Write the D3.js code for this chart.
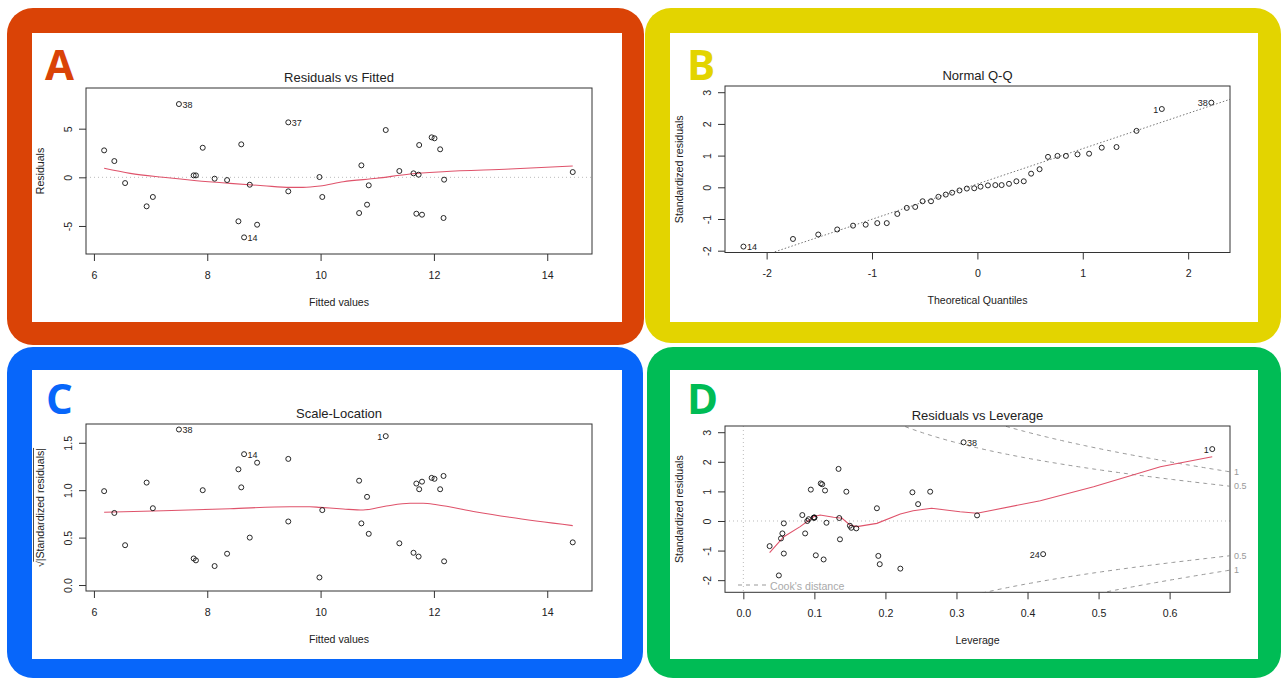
<!DOCTYPE html>
<html>
<head>
<meta charset="utf-8">
<script src="https://cdn.jsdelivr.net/npm/d3@7"></script>
<style>
  html, body { margin: 0; padding: 0; background: #fff; }
  svg { display: block; }
  text { font-family: "Liberation Sans", Arial, sans-serif; fill: #222; }
  .tick text { font-size: 10.6px; }
  .axis-title { font-size: 10.6px; }
  .plot-title { font-size: 13px; }
  .pt-label { font-size: 9px; }
  .panel-letter { font-family: "Open Sans", "Noto Sans", sans-serif; font-weight: 700; font-size: 42px; }
</style>
</head>
<body>
<svg id="chart" width="1284" height="678"></svg>
<script>
// ---------- Diagnostics of a linear model (38 observations) ----------

// Residuals vs Fitted / Scale-Location (shared fitted values)
const fitted = [6.18, 6.36, 6.55, 6.93, 7.04, 7.50, 7.76, 7.80, 7.92, 8.13, 8.35, 8.55, 8.60, 8.65, 8.75, 8.88, 9.43, 9.43, 9.98, 10.03,
                10.68, 10.72, 10.82, 10.85, 11.15, 11.39, 11.64, 11.69, 11.73, 11.74, 11.79, 11.96, 12.01, 12.11, 12.17, 12.18, 14.45];
const residuals = [2.77, 1.67, -0.59, -2.98, -2.02, 7.53, 0.20, 0.20, 3.04, -0.14, -0.28, -4.52, 3.39, -6.17, -0.76, -4.87, 5.65, -1.44, 0.03, -2.02,
                   -3.67, 1.23, -2.81, -0.82, 4.86, 0.65, 0.41, -3.74, 0.27, 3.32, -3.84, 4.11, 4.01, 2.88, -4.18, -0.24, 0.54];
const sqrtAbsStdResid = [0.99, 0.76, 0.42, 1.08, 0.81, 1.64, 0.28, 0.26, 1.00, 0.20, 0.33, 1.22, 1.03, 1.38, 0.50, 1.29, 1.33, 0.67, 0.08, 0.79,
                         1.10, 0.65, 0.93, 0.54, 1.57, 0.44, 0.34, 1.07, 0.30, 1.01, 1.09, 1.13, 1.12, 1.01, 1.15, 0.25, 0.45];

// lowess curves
const smoothFitX = [6.18, 6.64, 7.22, 7.81, 8.40, 8.99, 9.46, 9.69, 9.99, 10.40, 10.99, 11.58, 12.16, 13.34, 14.45];
const smoothFitY = [0.93, 0.41, 0.00, -0.35, -0.62, -0.86, -1.03, -1.03, -0.89, -0.45, -0.10, 0.34, 0.58, 0.85, 1.16];
const smoothScaleX = [6.18, 7.22, 8.40, 9.46, 9.81, 9.99, 10.40, 10.75, 11.16, 11.58, 11.81, 12.05, 12.75, 13.34, 14.45];
const smoothScaleY = [0.767, 0.784, 0.805, 0.826, 0.826, 0.819, 0.802, 0.791, 0.833, 0.862, 0.862, 0.847, 0.770, 0.714, 0.626];

// Normal Q-Q
const theoQuantiles = [-2.22, -1.75, -1.51, -1.33, -1.18, -1.06, -0.95, -0.86, -0.76, -0.67, -0.59, -0.52, -0.44, -0.37, -0.30, -0.24, -0.17, -0.10, -0.03,
                       0.03, 0.10, 0.17, 0.23, 0.30, 0.37, 0.44, 0.51, 0.59, 0.67, 0.76, 0.84, 0.95, 1.06, 1.18, 1.32, 1.51, 1.75, 2.22];
const sortedStdResid = [-1.87, -1.63, -1.49, -1.33, -1.21, -1.18, -1.13, -1.13, -0.84, -0.65, -0.62, -0.44, -0.44, -0.30, -0.23, -0.17, -0.10, -0.04, -0.03,
                        0.02, 0.06, 0.07, 0.07, 0.11, 0.19, 0.19, 0.43, 0.57, 0.96, 0.99, 0.99, 1.04, 1.06, 1.25, 1.27, 1.78, 2.47, 2.67];
const qqLineIntercept = 0.106;
const qqLineSlope = 1.114;

// Residuals vs Leverage
const leverage = [0.037, 0.050, 0.053, 0.055, 0.057, 0.057, 0.083, 0.087, 0.090, 0.092, 0.095, 0.099, 0.100, 0.100, 0.102, 0.109, 0.111, 0.113, 0.115, 0.117,
                  0.134, 0.135, 0.136, 0.145, 0.150, 0.152, 0.159, 0.188, 0.190, 0.192, 0.221, 0.238, 0.246, 0.263, 0.310, 0.329, 0.422, 0.660];
const levStdResid = [-0.85, -1.84, -0.59, -0.42, -0.08, -1.10, 0.20, -0.42, 0.00, 0.06, 1.06, 0.11, 0.11, 0.12, -1.16, 1.27, 1.24, -1.30, 1.03, -0.06,
                     1.76, 0.10, -0.62, 0.99, -0.16, -0.23, -0.25, 0.43, -1.18, -1.46, -1.61, 0.97, 0.57, 0.99, 2.66, 0.19, -1.12, 2.43];
const smoothLevX = [0.037, 0.057, 0.080, 0.099, 0.108, 0.127, 0.139, 0.150, 0.160, 0.188, 0.221, 0.239, 0.265, 0.305, 0.329, 0.418, 0.493, 0.587, 0.660];
const smoothLevY = [-1.07, -0.53, -0.19, 0.145, 0.20, 0.125, 0.09, -0.135, -0.19, -0.08, 0.236, 0.348, 0.428, 0.314, 0.26, 0.686, 1.16, 1.83, 2.17];
const cookLevels = [0.5, 1];
const nCoef = 6;

// labelled observations: index into the arrays above, id text, side (4 = right, 2 = left)
const fitLabelIdx = [5, 16, 13],   fitLabelText = ["38", "37", "14"],  fitLabelSide = [4, 4, 4];
const qqLabelIdx = [0, 36, 37],    qqLabelText = ["14", "1", "38"],    qqLabelSide = [4, 2, 2];
const scaleLabelIdx = [5, 13, 24], scaleLabelText = ["38", "14", "1"], scaleLabelSide = [4, 4, 2];
const levLabelIdx = [34, 36, 37],  levLabelText = ["38", "24", "1"],   levLabelSide = [4, 2, 2];

// tick values
const fitTicks = [6, 8, 10, 12, 14];
const residTicks = [-5, 0, 5];
const qqXTicks = [-2, -1, 0, 1, 2];
const stdResidTicks = [-2, -1, 0, 1, 2, 3];
const scaleTicks = [0, 0.5, 1.0, 1.5];
const levTicks = [0, 0.1, 0.2, 0.3, 0.4, 0.5, 0.6];

const panelLetters = ["A", "B", "C", "D"];
const panelColors = ["#DA4306", "#E3D400", "#0766FA", "#00BC55"];

// ---------- drawing ----------
const svg = d3.select("#chart");
const RED = "#DF536B";

// coloured frames
const frames = [
  { x: 7,   y: 8,   w: 637, h: 337, ix: 32,  iy: 33,  iw: 590, ih: 289, lx: 45,  ly: 80 },
  { x: 645, y: 8,   w: 636, h: 335, ix: 670, iy: 33,  iw: 588, ih: 289, lx: 687, ly: 80 },
  { x: 7,   y: 347, w: 636, h: 331, ix: 32,  iy: 370, iw: 590, ih: 289, lx: 46,  ly: 414 },
  { x: 647, y: 347, w: 634, h: 331, ix: 670, iy: 370, iw: 588, ih: 289, lx: 687, ly: 414 }
];
frames.forEach((f, i) => {
  svg.append("rect").attr("x", f.x).attr("y", f.y).attr("width", f.w).attr("height", f.h)
    .attr("rx", 26).attr("fill", panelColors[i]);
  svg.append("rect").attr("x", f.ix).attr("y", f.iy).attr("width", f.iw).attr("height", f.ih).attr("fill", "#fff");
  svg.append("text").attr("class", "panel-letter").attr("x", f.lx).attr("y", f.ly)
    .style("fill", panelColors[i]).text(panelLetters[i]);
});

function makePanel(o) {
  const b = o.box;
  const x = d3.scaleLinear().domain(o.xDomain).range([b.x0, b.x1]);
  const y = d3.scaleLinear().domain(o.yDomain).range([b.y1, b.y0]);
  const g = svg.append("g");
  const clipId = "clip-" + o.id;
  svg.append("clipPath").attr("id", clipId).append("rect")
    .attr("x", b.x0).attr("y", b.y0).attr("width", b.x1 - b.x0).attr("height", b.y1 - b.y0);
  const inner = g.append("g").attr("clip-path", `url(#${clipId})`);

  // x axis
  const xa = g.append("g").attr("transform", `translate(0,${b.y1})`).style("color", "#333")
    .call(d3.axisBottom(x).tickValues(o.xTicks).tickFormat(o.xFormat).tickSize(7).tickPadding(10));
  xa.select(".domain").remove();
  // y axis, labels parallel to the axis
  const ya = g.append("g").attr("transform", `translate(${b.x0},0)`).style("color", "#333")
    .call(d3.axisLeft(y).tickValues(o.yTicks).tickFormat(o.yFormat).tickSize(7));
  ya.select(".domain").remove();
  ya.selectAll(".tick text")
    .attr("x", null).attr("dy", "0.35em").attr("text-anchor", "middle")
    .attr("transform", "translate(-18,0) rotate(-90)");

  // box
  g.append("rect").attr("x", b.x0).attr("y", b.y0).attr("width", b.x1 - b.x0).attr("height", b.y1 - b.y0)
    .attr("fill", "none").attr("stroke", "#333").attr("stroke-width", 1);

  // titles
  g.append("text").attr("class", "plot-title").attr("x", (b.x0 + b.x1) / 2).attr("y", b.y0 - 11)
    .attr("dy", "0.35em").attr("text-anchor", "middle").text(o.title);
  g.append("text").attr("class", "axis-title").attr("x", (b.x0 + b.x1) / 2).attr("y", b.y1 + 48)
    .attr("dy", "0.35em").attr("text-anchor", "middle").text(o.xlab);
  const yt = g.append("text").attr("class", "axis-title")
    .attr("transform", `translate(${b.x0 - 46},${(b.y0 + b.y1) / 2}) rotate(-90)`)
    .attr("dy", "0.35em").attr("text-anchor", "middle").text(o.ylab);
  return { x, y, g, inner, yt };
}

function drawPoints(p, xs, ys) {
  p.g.selectAll(null).data(xs).join("circle")
    .attr("cx", (d) => p.x(d)).attr("cy", (d, i) => p.y(ys[i])).attr("r", 2.5)
    .attr("fill", "none").attr("stroke", "#111").attr("stroke-width", 0.9);
}
function drawLabels(p, xs, ys, idx, txt, side) {
  idx.forEach((k, j) => {
    const right = side[j] === 4;
    p.g.append("text").attr("class", "pt-label")
      .attr("x", p.x(xs[k]) + (right ? 3.5 : -3.5)).attr("y", p.y(ys[k]))
      .attr("dy", "0.4em").attr("text-anchor", right ? "start" : "end").text(txt[j]);
  });
}
function drawSmooth(p, xs, ys, curve) {
  const line = d3.line().x((d) => p.x(d)).y((d, i) => p.y(ys[i])).curve(curve || d3.curveMonotoneX);
  p.inner.append("path").attr("d", line(xs)).attr("fill", "none").attr("stroke", RED).attr("stroke-width", 1.1);
}
function hLine(p, v, color, dash) {
  const [a, c] = p.x.domain();
  p.inner.append("line").attr("x1", p.x(a)).attr("x2", p.x(c)).attr("y1", p.y(v)).attr("y2", p.y(v))
    .attr("stroke", color).attr("stroke-dasharray", dash);
}

const fmtInt = (d) => String(d);
const fmt1 = d3.format(".1f");

// A: Residuals vs Fitted
const pA = makePanel({ id: "a", box: { x0: 86, x1: 592, y0: 88, y1: 254 }, xDomain: [5.86, 14.79], yDomain: [-7.88, 9.18],
  xTicks: fitTicks, yTicks: residTicks, xFormat: fmtInt, yFormat: fmtInt,
  title: "Residuals vs Fitted", xlab: "Fitted values", ylab: "Residuals" });
hLine(pA, 0, "#bbb", "1,3");
drawSmooth(pA, smoothFitX, smoothFitY);
drawPoints(pA, fitted, residuals);
drawLabels(pA, fitted, residuals, fitLabelIdx, fitLabelText, fitLabelSide);

// B: Normal Q-Q
const pB = makePanel({ id: "b", box: { x0: 725, x1: 1230, y0: 86, y1: 252.5 }, xDomain: [-2.395, 2.397], yDomain: [-2.057, 3.196],
  xTicks: qqXTicks, yTicks: stdResidTicks, xFormat: fmtInt, yFormat: fmtInt,
  title: "Normal Q-Q", xlab: "Theoretical Quantiles", ylab: "Standardized residuals" });
{
  const [a, c] = pB.x.domain();
  pB.inner.append("line")
    .attr("x1", pB.x(a)).attr("y1", pB.y(qqLineIntercept + qqLineSlope * a))
    .attr("x2", pB.x(c)).attr("y2", pB.y(qqLineIntercept + qqLineSlope * c))
    .attr("stroke", "#777").attr("stroke-dasharray", "1.5,2");
}
drawPoints(pB, theoQuantiles, sortedStdResid);
drawLabels(pB, theoQuantiles, sortedStdResid, qqLabelIdx, qqLabelText, qqLabelSide);

// C: Scale-Location
const pC = makePanel({ id: "c", box: { x0: 86, x1: 592, y0: 424, y1: 591 }, xDomain: [5.86, 14.79], yDomain: [-0.063, 1.698],
  xTicks: fitTicks, yTicks: scaleTicks, xFormat: fmtInt, yFormat: fmt1,
  title: "Scale-Location", xlab: "Fitted values", ylab: "" });
{
  // √|Standardized residuals| with an overline on the radicand
  const t = pC.yt.text(null);
  t.append("tspan").text("\u221A");
  t.append("tspan").text("|Standardized residuals|");
  const node = t.node();
  const total = node.getComputedTextLength();
  const rootW = node.getSubStringLength(0, 1);
  const yLocal = -6.5;
  pC.g.append("line")
    .attr("transform", pC.yt.attr("transform"))
    .attr("x1", -total / 2 + rootW - 0.5).attr("x2", total / 2)
    .attr("y1", yLocal).attr("y2", yLocal)
    .attr("stroke", "#222").attr("stroke-width", 0.8);
}
drawSmooth(pC, smoothScaleX, smoothScaleY);
drawPoints(pC, fitted, sqrtAbsStdResid);
drawLabels(pC, fitted, sqrtAbsStdResid, scaleLabelIdx, scaleLabelText, scaleLabelSide);

// D: Residuals vs Leverage
const pD = makePanel({ id: "d", box: { x0: 725, x1: 1230, y0: 426, y1: 592.3 }, xDomain: [-0.0258, 0.685], yDomain: [-2.41, 3.21],
  xTicks: levTicks, yTicks: stdResidTicks, xFormat: fmt1, yFormat: fmtInt,
  title: "Residuals vs Leverage", xlab: "Leverage", ylab: "Standardized residuals" });
hLine(pD, 0, "#bbb", "1,3");
{
  const [lo, hi] = pD.y.domain();
  pD.inner.append("line").attr("x1", pD.x(0)).attr("x2", pD.x(0)).attr("y1", pD.y(hi)).attr("y2", pD.y(lo))
    .attr("stroke", "#bbb").attr("stroke-dasharray", "1,3");
  // Cook's distance contours
  const hMax = pD.x.domain()[1];
  const hh = d3.range(0.004, hMax + 0.001, 0.004);
  cookLevels.forEach((lv) => {
    [1, -1].forEach((sgn) => {
      const line = d3.line().x((h) => pD.x(h)).y((h) => pD.y(sgn * Math.sqrt(lv * nCoef * (1 - h) / h)));
      pD.inner.append("path").attr("d", line(hh)).attr("fill", "none")
        .attr("stroke", "#999").attr("stroke-dasharray", "4,4");
      pD.g.append("text").attr("class", "pt-label").style("fill", "#999")
        .attr("x", 1234).attr("y", pD.y(sgn * Math.sqrt(lv * nCoef * (1 - hMax) / hMax)))
        .attr("dy", "0.35em").attr("text-anchor", "start").text(String(lv));
    });
  });
  // legend
  pD.g.append("line").attr("x1", 738).attr("x2", 767).attr("y1", 585).attr("y2", 585)
    .attr("stroke", "#999").attr("stroke-dasharray", "4,4");
  pD.g.append("text").attr("class", "axis-title").style("fill", "#aaa")
    .attr("x", 770).attr("y", 586).attr("dy", "0.35em").text("Cook's distance");
}
drawSmooth(pD, smoothLevX, smoothLevY, d3.curveLinear);
drawPoints(pD, leverage, levStdResid);
drawLabels(pD, leverage, levStdResid, levLabelIdx, levLabelText, levLabelSide);
</script>
</body>
</html>
